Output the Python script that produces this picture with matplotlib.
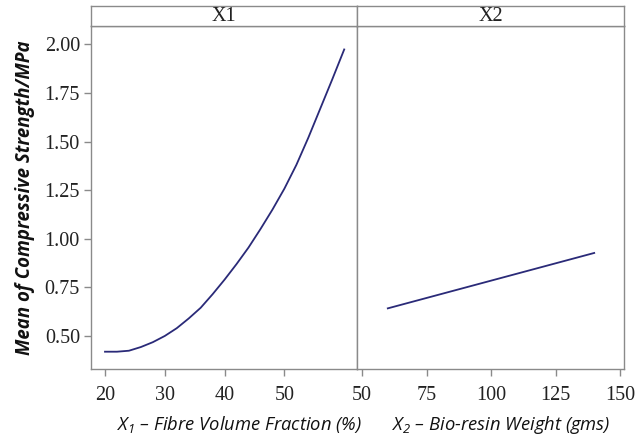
import matplotlib
matplotlib.use("Agg")
import matplotlib.pyplot as plt

# Data
x1_vals = [20, 22, 24, 26, 28, 30, 32, 34, 36, 38, 40, 42, 44, 46, 48, 50, 52, 54, 56, 58, 60]
y1_vals = [0.419, 0.419, 0.424, 0.443, 0.468, 0.500, 0.540, 0.590, 0.645, 0.715, 0.790,
           0.870, 0.955, 1.050, 1.150, 1.258, 1.380, 1.520, 1.670, 1.820, 1.974]
x2_vals = [60, 140]
y2_vals = [0.642, 0.927]
panel_titles = ["X1", "X2"]
x1_ticks = [20, 30, 40, 50]
x2_ticks = [50, 75, 100, 125, 150]
y_ticks = [0.50, 0.75, 1.00, 1.25, 1.50, 1.75, 2.00]

plt.rcParams['mathtext.fontset'] = 'custom'
plt.rcParams['mathtext.it'] = 'Open Sans:italic'
plt.rcParams['mathtext.rm'] = 'Open Sans:italic'

W, H = 637, 437
fig = plt.figure(figsize=(W / 100, H / 100), dpi=100)

frame_col = '#8a8a8a'
line_col = '#2a2a78'
serif = 'Liberation Serif'

def ax_rect(x0, x1, ytop, ybot):
    return [x0 / W, (H - ybot) / H, (x1 - x0) / W, (ybot - ytop) / H]

axL = fig.add_axes(ax_rect(91, 357, 26, 369))
axR = fig.add_axes(ax_rect(357, 624, 26, 369))
stL = fig.add_axes(ax_rect(91, 357, 5.5, 26))
stR = fig.add_axes(ax_rect(357, 624, 5.5, 26))

axL.plot(x1_vals, y1_vals, color=line_col, lw=1.3)
axR.plot(x2_vals, y2_vals, color=line_col, lw=1.3)

axL.set_xlim(17.66, 62.14)
axR.set_xlim(48.06, 151.55)
for ax in (axL, axR):
    ax.set_ylim(0.330, 2.0947)
    for s in ax.spines.values():
        s.set_color(frame_col)
        s.set_linewidth(1.0)
    ax.tick_params(axis='both', direction='out', length=5, color=frame_col,
                   labelsize=13.5, width=1.0)
    ax.tick_params(axis='x', pad=7)
    ax.tick_params(axis='y', pad=3)

axL.set_xticks(x1_ticks)
axL.set_xticklabels([str(t) for t in x1_ticks], fontfamily=serif, fontsize=14.5, color='#222222')
axR.set_xticks(x2_ticks)
axR.set_xticklabels([str(t) for t in x2_ticks], fontfamily=serif, fontsize=14.5, color='#222222')
axL.set_yticks(y_ticks)
axL.set_yticklabels([f"{t:.2f}" for t in y_ticks], fontfamily=serif, fontsize=14.5, color='#222222')
axR.set_yticks([])

axL.set_xlabel(r"$X_1$ – Fibre Volume Fraction (%)", fontfamily='Open Sans',
               fontstyle='italic', fontsize=13.2, color='#111111')
axR.set_xlabel(r"$X_2$ – Bio-resin Weight (gms)", fontfamily='Open Sans',
               fontstyle='italic', fontsize=13.2, color='#111111')
axL.xaxis.set_label_coords(0.558, -0.132)
axR.xaxis.set_label_coords(0.539, -0.132)
axL.set_ylabel("Mean of Compressive Strength/MPa", fontfamily='Open Sans',
               fontstyle='italic', fontweight='bold', fontsize=13.4, labelpad=7, color='#111111')

for st, title in zip((stL, stR), panel_titles):
    st.set_xticks([])
    st.set_yticks([])
    for s in st.spines.values():
        s.set_color(frame_col)
        s.set_linewidth(1.0)
    st.text(0.5, 0.45, title, ha='center', va='center', fontfamily=serif,
            fontsize=14.5, color='#222222', transform=st.transAxes)

fig.savefig('out.png', dpi=100)
